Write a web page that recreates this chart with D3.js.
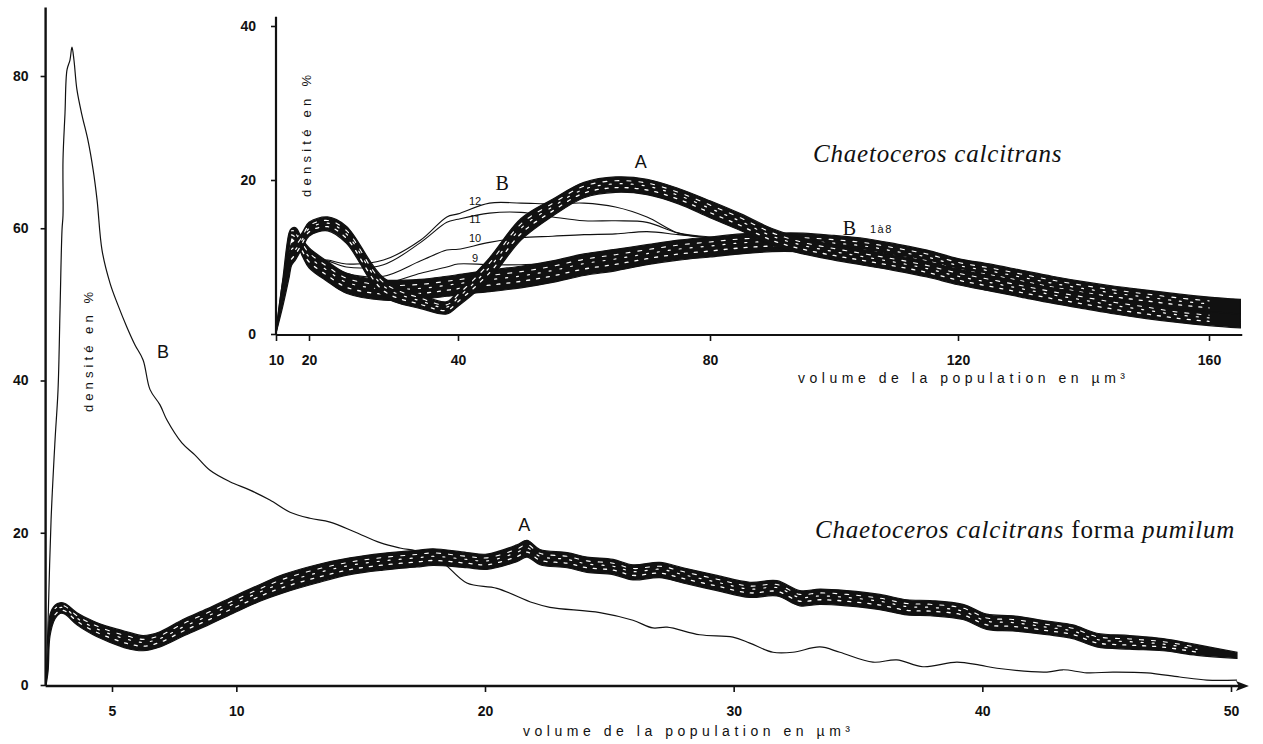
<!DOCTYPE html>
<html><head><meta charset="utf-8">
<script src="https://cdn.jsdelivr.net/npm/d3@7"></script>
<style>
html,body{margin:0;padding:0;background:#fff;}
svg{display:block;}
</style></head><body>
<svg id="c" width="1263" height="744"></svg>
<script>
// ================= MAIN CHART : Chaetoceros calcitrans forma pumilum =================
const mainXTicks = [5, 10, 20, 30, 40, 50];
const mainYTicks = [0, 20, 40, 60, 80];

// A : bundle of replicate distributions (centre of bundle + half-width of bundle)
const mainA_x = [2.35,2.43,2.51,2.71,2.91,3.11,3.59,4.24,4.92,5.6,6.25,6.93,7.85,8.82,9.86,10.95,11.88,13.24,14.57,15.9,17.26,17.91,19.27,20.08,21.28,21.69,22.21,23.3,24.1,25.15,25.95,27.03,27.96,29.33,30.65,31.74,32.66,33.47,34.55,35.88,36.97,37.9,39.22,40.18,41.23,42.6,43.64,44.6,45.93,47.26,48.63,50.24];
const mainA_y = [0,3.3,7.9,9.6,10.1,10.0,8.7,7.5,6.6,5.9,5.5,6.0,7.5,8.9,10.5,12.1,13.3,14.6,15.6,16.2,16.6,16.8,16.4,16.2,17.3,17.9,16.8,16.4,15.8,15.5,14.8,15.1,14.4,13.4,12.5,12.7,11.4,11.6,11.4,10.9,10.2,10.1,9.6,8.3,8.1,7.5,7.0,5.9,5.6,5.3,4.6,3.9];
const mainA_spread = [0.1,1.5,1.4,0.9,0.7,0.7,0.8,0.9,1.0,1.1,1.0,1.0,1.1,1.1,1.1,1.1,1.2,1.2,1.1,1.1,1.1,1.1,1.0,1.0,1.1,1.1,1.0,1.0,1.0,1.0,1.0,1.0,1.0,1.0,1.0,1.0,1.0,1.0,1.0,1.0,1.0,1.0,1.0,1.0,1.0,0.9,0.9,0.9,0.9,0.8,0.7,0.4];

// B : single distribution
const mainB_x = [2.35,2.43,2.55,2.71,2.83,2.91,2.99,3.03,3.03,3.11,3.19,3.31,3.39,3.47,3.59,3.79,4.03,4.24,4.40,4.60,4.92,5.24,5.6,5.92,6.25,6.53,6.93,7.21,7.81,8.34,8.94,9.74,10.55,11.35,12.16,12.96,13.77,14.77,15.78,16.58,17.38,18.19,19.27,20.48,21.93,22.61,24.62,25.95,26.75,27.32,28.64,29.97,30.65,31.58,32.38,33.47,34.27,35.6,36.56,37.61,38.98,39.9,40.59,42.6,43.24,44.2,45.25,46.62,47.94,49.03,50.24];
const mainB_y = [0,8.5,21.7,32.2,38.8,49.3,59.8,61.7,69,75.1,80.8,82.1,83.8,82.1,78.2,74.9,71.6,67.7,63.7,57.1,52.8,49.9,47.0,44.7,42.7,38.8,36.8,34.8,31.8,30.2,28.2,26.7,25.6,24.3,22.7,21.9,21.4,20.1,18.7,18.0,17.5,16.4,13.4,12.7,10.8,10.2,9.5,8.5,7.5,7.6,6.6,6.3,5.5,4.3,4.3,5.0,4.3,3.0,3.3,2.4,3.0,2.6,2.2,1.7,2.0,1.6,1.7,1.6,1.05,0.65,0.65];

// ================= INSET : Chaetoceros calcitrans =================
const insetXTicks = [10, 20, 40, 80, 120, 160];
const insetYTicks = [0, 20, 40];
const inset_x = [10,12,14,14.7,16,18,20,22.5,25,30,35,38.5,40,45,50,55,60,65,70,75,80,85,90,95,100,105,110,115,120,125,130,135,140,145,150,155,160,165];
// A bundle
const insetA_y = [0.2,5.1,9.0,10.3,10.9,12.2,13.6,14.3,12.9,6.1,4.2,3.4,4.6,8.5,13.6,16.4,18.7,19.4,19.1,17.9,16.2,14.5,12.6,11.4,10.6,9.9,9.2,8.4,7.4,6.6,5.8,5.0,4.3,3.6,3.0,2.4,2.0,1.7];
const insetA_spread = [0.1,1.6,1.6,1.4,1.2,1.0,0.9,0.9,1.1,1.2,0.9,0.8,1.0,1.4,1.4,1.1,1.0,1.0,1.0,1.0,1.1,1.1,1.1,1.0,1.0,1.0,1.0,1.0,1.0,1.0,1.0,1.0,1.0,1.0,1.0,0.9,0.9,0.9];
// B 1 a 8 bundle
const insetB_y = [0.2,5.7,12.2,13.1,12.9,11.2,9.9,8.1,6.6,5.7,5.8,6.2,6.4,6.9,7.4,8.1,9.0,9.6,10.3,10.9,11.3,11.7,11.9,11.9,11.7,11.3,10.6,9.9,8.8,8.1,7.3,6.5,5.8,5.2,4.7,4.2,3.8,3.5];
const insetB_spread = [0.1,1.2,1.0,0.6,0.9,1.1,1.3,1.3,1.3,1.3,1.3,1.3,1.3,1.4,1.4,1.4,1.4,1.4,1.3,1.3,1.3,1.3,1.2,1.2,1.1,1.1,1.1,1.0,1.0,1.0,1.0,1.0,1.0,1.0,1.0,1.0,1.0,1.0];
// B curves 9 to 12
const inset9  = [0.2,5.7,12.0,12.8,12.2,10.6,9.5,8.7,7.5,6.6,7.9,8.7,9.1,9.0,9.0,9.2,10.0,10.9,11.3,11.6,11.7,11.8,11.7,11.6,11.2,10.7,10.0,9.2,8.4,7.6,6.8,6.0,5.4,4.8,4.3,3.8,3.3,3.0];
const inset10 = [0.2,5.7,12.1,12.9,12.3,10.7,9.7,9.0,7.9,7.5,9.5,10.9,11.0,11.9,12.5,12.7,12.9,13.0,13.3,12.9,12.5,12.2,11.9,11.8,11.4,11.0,10.2,9.5,8.6,7.8,7.1,6.3,5.6,5.0,4.5,4.0,3.6,3.3];
const inset11 = [0.2,5.7,12.2,13.0,12.4,10.9,9.9,9.5,8.7,9.0,11.9,14.5,14.9,15.7,15.8,15.2,14.7,14.7,14.5,13.1,12.6,12.1,12.0,12.0,11.8,11.2,10.4,9.8,8.9,8.2,7.5,6.8,6.1,5.5,5.0,4.5,4.1,3.9];
const inset12 = [0.2,5.7,12.2,13.1,12.5,10.8,9.8,9.6,9.1,9.6,12.2,15.2,15.6,17.0,17.0,16.9,17.0,16.5,15.2,13.1,12.5,12.2,12.2,12.3,12.0,11.6,10.9,10.1,9.2,8.5,7.8,7.0,6.4,5.9,5.3,4.9,4.5,4.2];

// ================= DRAWING =================
const svg = d3.select('#c');
const INK = '#111';
const SANS = "'Liberation Sans', Arial, sans-serif";
const SERIF = "'Liberation Serif', 'Times New Roman', serif";

const mx = d3.scaleLinear().domain([5, 50]).range([112, 1231]);
const my = d3.scaleLinear().domain([0, 80]).range([685, 76]);
const ix = d3.scaleLinear().domain(insetXTicks).range([276, 309, 458, 710, 958, 1209]);
const iy = d3.scaleLinear().domain([0, 40]).range([334, 26]);

function drawBand(g, xs, ys, sp, X, Y) {
  const d = xs.map((x, i) => ({x, y: ys[i], s: sp[i]}));
  const area = d3.area().curve(d3.curveCatmullRom.alpha(0.5))
    .x(p => X(p.x)).y0(p => Y(Math.max(0, p.y - p.s))).y1(p => Y(p.y + p.s));
  g.append('path').attr('d', area(d)).attr('fill', INK).attr('stroke', INK).attr('stroke-width', 1.2);
  // texture: small light gaps like the overlapping traces of the original plate
  const tex = [[-0.4, '3 7', 0, 1.3], [0.1, '2 9', 5, 1.2], [0.5, '4 8', 2, 1.1]];
  tex.forEach(([k, dash, off, w]) => {
    const ln = d3.line().curve(d3.curveCatmullRom.alpha(0.5))
      .x(p => X(p.x)).y(p => Y(Math.max(0, p.y + k * p.s)));
    g.append('path').attr('d', ln(d.slice(3, d.length - 1))).attr('fill', 'none')
      .attr('stroke', '#fff').attr('stroke-width', w).attr('stroke-dasharray', dash)
      .attr('stroke-dashoffset', off).attr('stroke-linecap', 'round');
  });
}
function drawLine(g, xs, ys, X, Y, w) {
  const ln = d3.line().curve(d3.curveCatmullRom.alpha(0.5)).x((x) => X(x)).y((x, i) => Y(ys[i]));
  g.append('path').attr('d', ln(xs)).attr('fill', 'none').attr('stroke', INK)
    .attr('stroke-width', w).attr('stroke-linejoin', 'round');
}
function styleTicks(g, size) {
  g.selectAll('.tick line').attr('stroke', INK).attr('stroke-width', 1.6);
  g.selectAll('.tick text').attr('fill', INK).attr('font-family', SANS)
    .attr('font-size', size).attr('font-weight', 'bold');
}

// ---- main chart ----
const main = svg.append('g');
drawLine(main, mainB_x, mainB_y, mx, my, 1.2);
drawBand(main, mainA_x, mainA_y, mainA_spread, mx, my);

const gmx = main.append('g').attr('transform', `translate(0,${my(0) + 1})`)
  .call(d3.axisBottom(mx).tickValues(mainXTicks).tickSize(6).tickPadding(14).tickFormat(d3.format('d')));
gmx.select('.domain').remove();
styleTicks(gmx, 14);
main.append('line').attr('x1', mx(2.33)).attr('x2', mx(50.5)).attr('y1', my(0) + 1).attr('y2', my(0) + 1)
  .attr('stroke', INK).attr('stroke-width', 2.4);
{
  const tipX = mx(50.72), yy = my(0) + 1;
  main.append('path').attr('d', `M${tipX},${yy} L${tipX - 13},${yy - 5} L${tipX - 10},${yy} L${tipX - 13},${yy + 5} Z`)
    .attr('fill', INK);
}
const gmy = main.append('g').attr('transform', `translate(${mx(2.33)},0)`)
  .call(d3.axisLeft(my).tickValues(mainYTicks).tickSize(5).tickPadding(12).tickFormat(d3.format('d')));
gmy.select('.domain').remove();
styleTicks(gmy, 14);
main.append('line').attr('x1', mx(2.33)).attr('x2', mx(2.33)).attr('y1', my(0) + 1).attr('y2', my(89))
  .attr('stroke', INK).attr('stroke-width', 2.4);

main.append('text').attr('x', 523).attr('y', 736).attr('textLength', 327).attr('lengthAdjust', 'spacing')
  .attr('font-family', SANS).attr('font-size', 14).attr('fill', INK)
  .text('volume de la population en µm³');
main.append('text').attr('transform', 'translate(93,352) rotate(-90)').attr('text-anchor', 'middle')
  .attr('textLength', 120).attr('lengthAdjust', 'spacing')
  .attr('font-family', SANS).attr('font-size', 13).attr('fill', INK).text('densité en %');
main.append('text').attr('x', mx(21.58)).attr('y', 531).attr('text-anchor', 'middle')
  .attr('font-family', SANS).attr('font-size', 18).attr('fill', INK).text('A');
main.append('text').attr('x', mx(7.05)).attr('y', 358).attr('text-anchor', 'middle')
  .attr('font-family', SANS).attr('font-size', 18).attr('fill', INK).text('B');
{
  const t = main.append('text').attr('x', 815).attr('y', 538).attr('font-family', SERIF)
    .attr('font-size', 25).attr('letter-spacing', 0.8).attr('fill', INK);
  t.append('tspan').attr('font-style', 'italic').text('Chaetoceros calcitrans');
  t.append('tspan').text(' forma ');
  t.append('tspan').attr('font-style', 'italic').text('pumilum');
}

// ---- inset ----
const ins = svg.append('g');
[inset9, inset10, inset11, inset12].forEach(s => drawLine(ins, inset_x, s, ix, iy, 1.1));
drawBand(ins, inset_x, insetB_y, insetB_spread, ix, iy);
drawBand(ins, inset_x, insetA_y, insetA_spread, ix, iy);

const gix = ins.append('g').attr('transform', `translate(0,${iy(0) + 1})`)
  .call(d3.axisBottom(ix).tickValues(insetXTicks).tickSize(6).tickPadding(14).tickFormat(d3.format('d')));
gix.select('.domain').remove();
styleTicks(gix, 14);
ins.append('line').attr('x1', ix(10)).attr('x2', ix(165.3)).attr('y1', iy(0) + 1).attr('y2', iy(0) + 1)
  .attr('stroke', INK).attr('stroke-width', 2.2);
const giy = ins.append('g').attr('transform', `translate(${ix(10)},0)`)
  .call(d3.axisLeft(iy).tickValues(insetYTicks).tickSize(5).tickPadding(15).tickFormat(d3.format('d')));
giy.select('.domain').remove();
styleTicks(giy, 14);
ins.append('line').attr('x1', ix(10)).attr('x2', ix(10)).attr('y1', iy(0) + 1).attr('y2', iy(41.2))
  .attr('stroke', INK).attr('stroke-width', 2.2);

ins.append('text').attr('x', 798).attr('y', 383).attr('textLength', 327).attr('lengthAdjust', 'spacing')
  .attr('font-family', SANS).attr('font-size', 14).attr('fill', INK)
  .text('volume de la population en µm³');
ins.append('text').attr('transform', 'translate(311,136) rotate(-90)').attr('text-anchor', 'middle')
  .attr('textLength', 122).attr('lengthAdjust', 'spacing')
  .attr('font-family', SANS).attr('font-size', 13).attr('fill', INK).text('densité en %');
ins.append('text').attr('x', 813).attr('y', 162).attr('font-family', SERIF).attr('font-style', 'italic')
  .attr('font-size', 25).attr('letter-spacing', 0.8).attr('fill', INK).text('Chaetoceros calcitrans');
ins.append('text').attr('x', ix(69)).attr('y', 168).attr('text-anchor', 'middle')
  .attr('font-family', SANS).attr('font-size', 18).attr('fill', INK).text('A');
ins.append('text').attr('x', ix(47)).attr('y', 190).attr('text-anchor', 'middle')
  .attr('font-family', SERIF).attr('font-size', 20).attr('fill', INK).text('B');
ins.append('text').attr('x', ix(102.5)).attr('y', 235).attr('text-anchor', 'middle')
  .attr('font-family', SERIF).attr('font-size', 20).attr('fill', INK).text('B');
ins.append('text').attr('x', 870).attr('y', 233)
  .attr('font-family', SANS).attr('font-size', 11).attr('letter-spacing', 1.5).attr('fill', INK).text('1à8');
[['12', 205], ['11', 223], ['10', 242], ['9', 262]].forEach(([lab, yy]) => {
  ins.append('text').attr('x', ix(42.7)).attr('y', yy).attr('text-anchor', 'middle')
    .attr('font-family', SANS).attr('font-size', 11).attr('fill', INK).text(lab);
});
</script>
</body></html>
